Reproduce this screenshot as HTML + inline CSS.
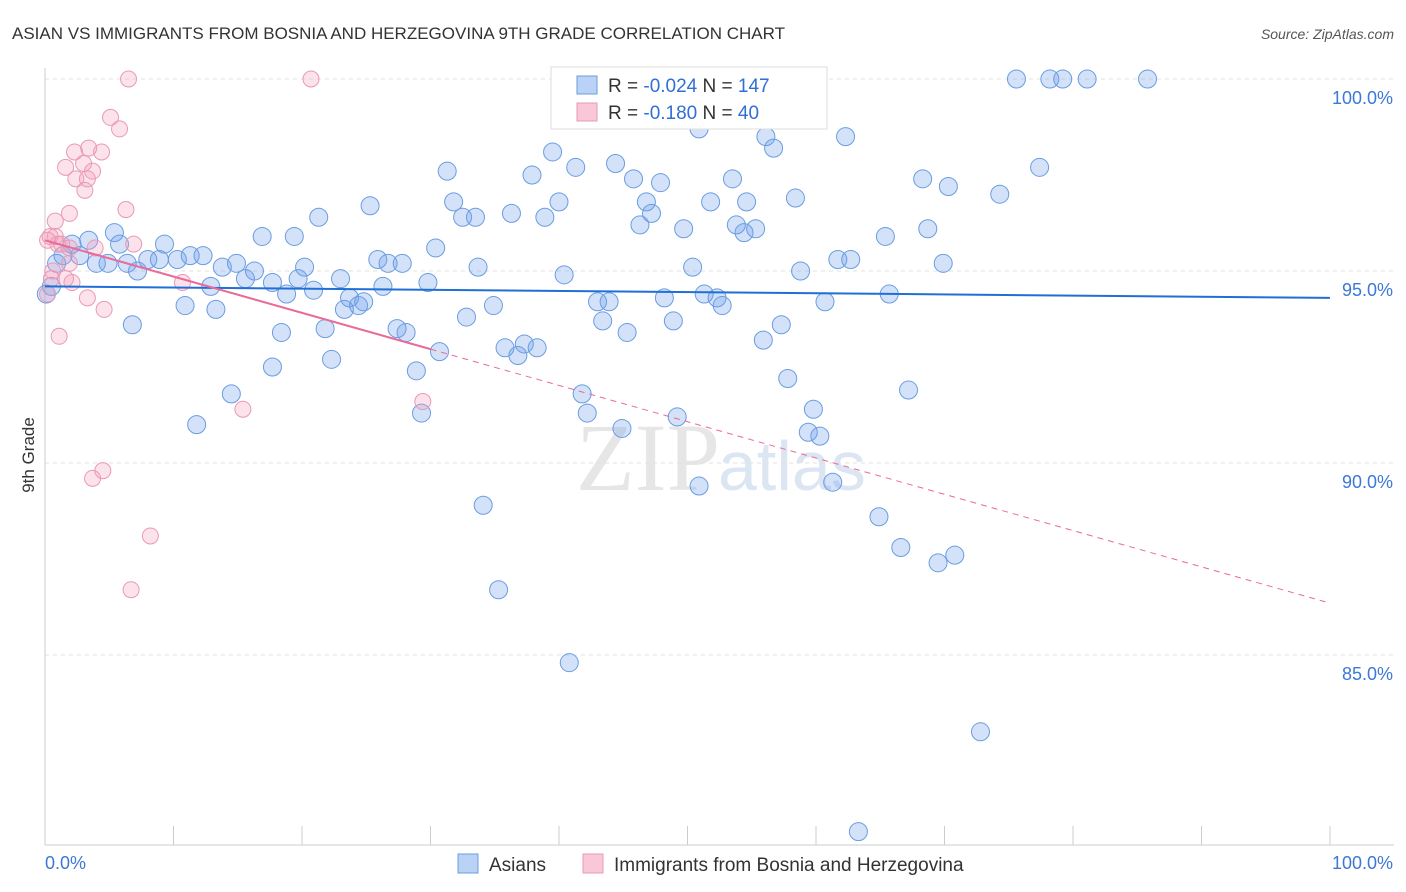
<!DOCTYPE html>
<html><head><meta charset="utf-8"><style>
body{margin:0;background:#fff;font-family:"Liberation Sans",sans-serif;}
svg{display:block}
</style></head><body>
<svg id="chart" width="1406" height="892" xmlns="http://www.w3.org/2000/svg">
<text x="12" y="39" font-size="17" fill="#333">ASIAN VS IMMIGRANTS FROM BOSNIA AND HERZEGOVINA 9TH GRADE CORRELATION CHART</text>
<text x="1394" y="39" font-size="14" fill="#555" font-style="italic" text-anchor="end">Source: ZipAtlas.com</text>
<text x="34" y="455" font-size="17" fill="#333" transform="rotate(-90 34 455)" text-anchor="middle">9th Grade</text>
<text x="720" y="490" font-size="96" fill="#e6e6e6" font-family="Liberation Serif" text-anchor="end">ZIP</text>
<text x="718" y="490" font-size="70" fill="#dce6f3">atlas</text>
<g id="grid"></g><g id="axes"></g><g id="pts"></g><g id="lines"></g>
<g>
<rect x="551" y="67" width="276" height="62" fill="#fff" stroke="#ddd"/>
<rect x="577" y="76" width="20" height="18" fill="#b9d2f5" stroke="#6a9de0"/>
<text x="608" y="92" font-size="19" fill="#333">R = <tspan fill="#2f6fd6">-0.024</tspan>   N = <tspan fill="#2f6fd6">147</tspan></text>
<rect x="577" y="103" width="20" height="18" fill="#f8c8d8" stroke="#e89ab4"/>
<text x="608" y="119" font-size="19" fill="#333">R =  <tspan fill="#2f6fd6">-0.180</tspan>   N =  <tspan fill="#2f6fd6">40</tspan></text>
</g>
<g>
<rect x="458" y="854" width="20" height="19" fill="#b9d2f5" stroke="#6a9de0"/>
<text x="489" y="871" font-size="19" fill="#333">Asians</text>
<rect x="583" y="854" width="20" height="19" fill="#f8c8d8" stroke="#e89ab4"/>
<text x="614" y="871" font-size="19" fill="#333">Immigrants from Bosnia and Herzegovina</text>
</g>
</svg>
<script>
const yTicks=[100,95,90,85];
const yTickLabels=["100.0%","95.0%","90.0%","85.0%"];
const xTickLabels=["0.0%","100.0%"];
const asianX=[75.6,78.2,79.2,81.1,85.8,50.9,56.1,62.3,56.7,39.5,44.4,77.4,31.3,41.3,37.9,45.8,53.5,68.3,47.9,70.3,58.4,74.3,31.8,40.0,51.8,54.6,25.3,36.3,46.8,47.2,21.3,32.5,33.5,38.9,46.3,49.7,53.8,55.3,54.4,68.7,16.9,19.4,65.4,30.4,5.4,3.4,5.8,9.3,2.1,1.4,2.7,4.0,4.9,8.0,8.9,10.3,11.3,12.3,6.4,7.2,13.8,14.9,16.3,15.6,20.2,25.9,26.7,27.8,33.7,40.4,50.4,58.8,61.7,62.7,69.9,23.0,17.7,19.7,12.9,26.3,29.8,18.8,20.9,23.7,24.8,23.3,24.4,43.0,43.9,48.2,51.3,52.3,52.7,60.7,65.7,10.9,13.3,34.9,6.8,21.8,27.4,28.1,18.4,32.8,43.4,48.9,57.3,45.3,55.9,35.8,36.8,37.3,38.3,30.7,22.3,17.7,28.9,57.8,14.5,41.8,67.2,42.2,44.9,49.2,59.8,11.8,29.3,59.4,60.3,61.3,50.9,34.1,64.9,66.6,70.8,69.5,35.3,40.8,72.8,63.3,0.1,0.5,0.9];
const asianY=[100,100,100,100,100,98.7,98.5,98.5,98.2,98.1,97.8,97.7,97.6,97.7,97.5,97.4,97.4,97.4,97.3,97.2,96.9,97.0,96.8,96.8,96.8,96.8,96.7,96.5,96.8,96.5,96.4,96.4,96.4,96.4,96.2,96.1,96.2,96.1,96.0,96.1,95.9,95.9,95.9,95.6,96.0,95.8,95.7,95.7,95.7,95.4,95.4,95.2,95.2,95.3,95.3,95.3,95.4,95.4,95.2,95.0,95.1,95.2,95.0,94.8,95.1,95.3,95.2,95.2,95.1,94.9,95.1,95.0,95.3,95.3,95.2,94.8,94.7,94.8,94.6,94.6,94.7,94.4,94.5,94.3,94.2,94.0,94.1,94.2,94.2,94.3,94.4,94.3,94.1,94.2,94.4,94.1,94.0,94.1,93.6,93.5,93.5,93.4,93.4,93.8,93.7,93.7,93.6,93.4,93.2,93.0,92.8,93.1,93.0,92.9,92.7,92.5,92.4,92.2,91.8,91.8,91.9,91.3,90.9,91.2,91.4,91.0,91.3,90.8,90.7,89.5,89.4,88.9,88.6,87.8,87.6,87.4,86.7,84.8,83.0,80.4,94.4,94.6,95.2];
const bosX=[6.5,20.7,5.1,5.8,4.4,3.4,2.3,3.0,1.6,3.7,2.4,3.3,3.1,6.3,1.9,0.8,0.4,0.8,1.0,1.3,1.9,3.9,6.9,0.2,1.9,0.6,2.1,10.7,3.3,4.6,1.1,15.4,29.4,4.5,3.7,8.2,6.7,0.2,0.5,1.6];
const bosY=[100,100,99.0,98.7,98.1,98.2,98.1,97.8,97.7,97.6,97.4,97.4,97.1,96.6,96.5,96.3,95.9,95.9,95.7,95.7,95.6,95.6,95.7,95.8,95.2,95.0,94.7,94.7,94.3,94.0,93.3,91.4,91.6,89.8,89.6,88.1,86.7,94.4,94.8,94.8];
const asianTrend=[94.6,94.3];
const bosTrend=[95.8,86.35];
const bosSolidEnd=30;
const NS="http://www.w3.org/2000/svg";
const X=v=>45+v*12.85, Y=v=>79+(100-v)*38.4;
function mk(tag,attrs,parent){const e=document.createElementNS(NS,tag);for(const k in attrs)e.setAttribute(k,attrs[k]);document.getElementById(parent).appendChild(e);return e;}
yTicks.forEach((t,i)=>{
 const g=mk('line',{x1:45,x2:1394,y1:Y(t),y2:Y(t),stroke:'#e2e2e2','stroke-dasharray':'4,4'},'grid');
 
 
 const l=mk('text',{x:1393,y:Y(t)+25,'font-size':18,fill:'#3b78d8','text-anchor':'end'},'axes');l.textContent=yTickLabels[i];
 
 
});
const ax=mk('line',{x1:45,x2:45,y1:68,y2:845,stroke:'#ccc'},'axes');


const bx=mk('line',{x1:45,x2:1394,y1:845,y2:845,stroke:'#ccc'},'axes');


for(let i=0;i<=10;i++){const t=mk('line',{x1:X(i*10),x2:X(i*10),y1:826,y2:845,stroke:'#ccc'},'axes');
 
 }
const xl0=mk('text',{x:45,y:869,'font-size':18,fill:'#3b78d8'},'axes');xl0.textContent=xTickLabels[0];


const xl1=mk('text',{x:1393,y:869,'font-size':18,fill:'#3b78d8','text-anchor':'end'},'axes');xl1.textContent=xTickLabels[1];


asianX.forEach((x,i)=>{const c=mk('circle',{cx:X(x),cy:Y(asianY[i]),r:9,fill:'rgba(110,160,235,0.3)',stroke:'#6a9de0','stroke-width':1},'pts');
 
 });
bosX.forEach((x,i)=>{const c=mk('circle',{cx:X(x),cy:Y(bosY[i]),r:8,fill:'rgba(245,160,190,0.3)',stroke:'#e89ab4','stroke-width':1},'pts');
 
 });
const a=mk('line',{x1:X(0),y1:Y(asianTrend[0]),x2:X(100),y2:Y(asianTrend[1]),stroke:'#1f6fd6','stroke-width':2},'lines');


const bAt=v=>bosTrend[0]+(bosTrend[1]-bosTrend[0])*v/100;
const b=mk('line',{x1:X(0),y1:Y(bAt(0)),x2:X(bosSolidEnd),y2:Y(bAt(bosSolidEnd)),stroke:'#e86b9a','stroke-width':2},'lines');


const bd=mk('line',{x1:X(bosSolidEnd),y1:Y(bAt(bosSolidEnd)),x2:X(100),y2:Y(bAt(100)),stroke:'#e86b9a','stroke-width':1,'stroke-dasharray':'6,5'},'lines');


</script>
</body></html>
